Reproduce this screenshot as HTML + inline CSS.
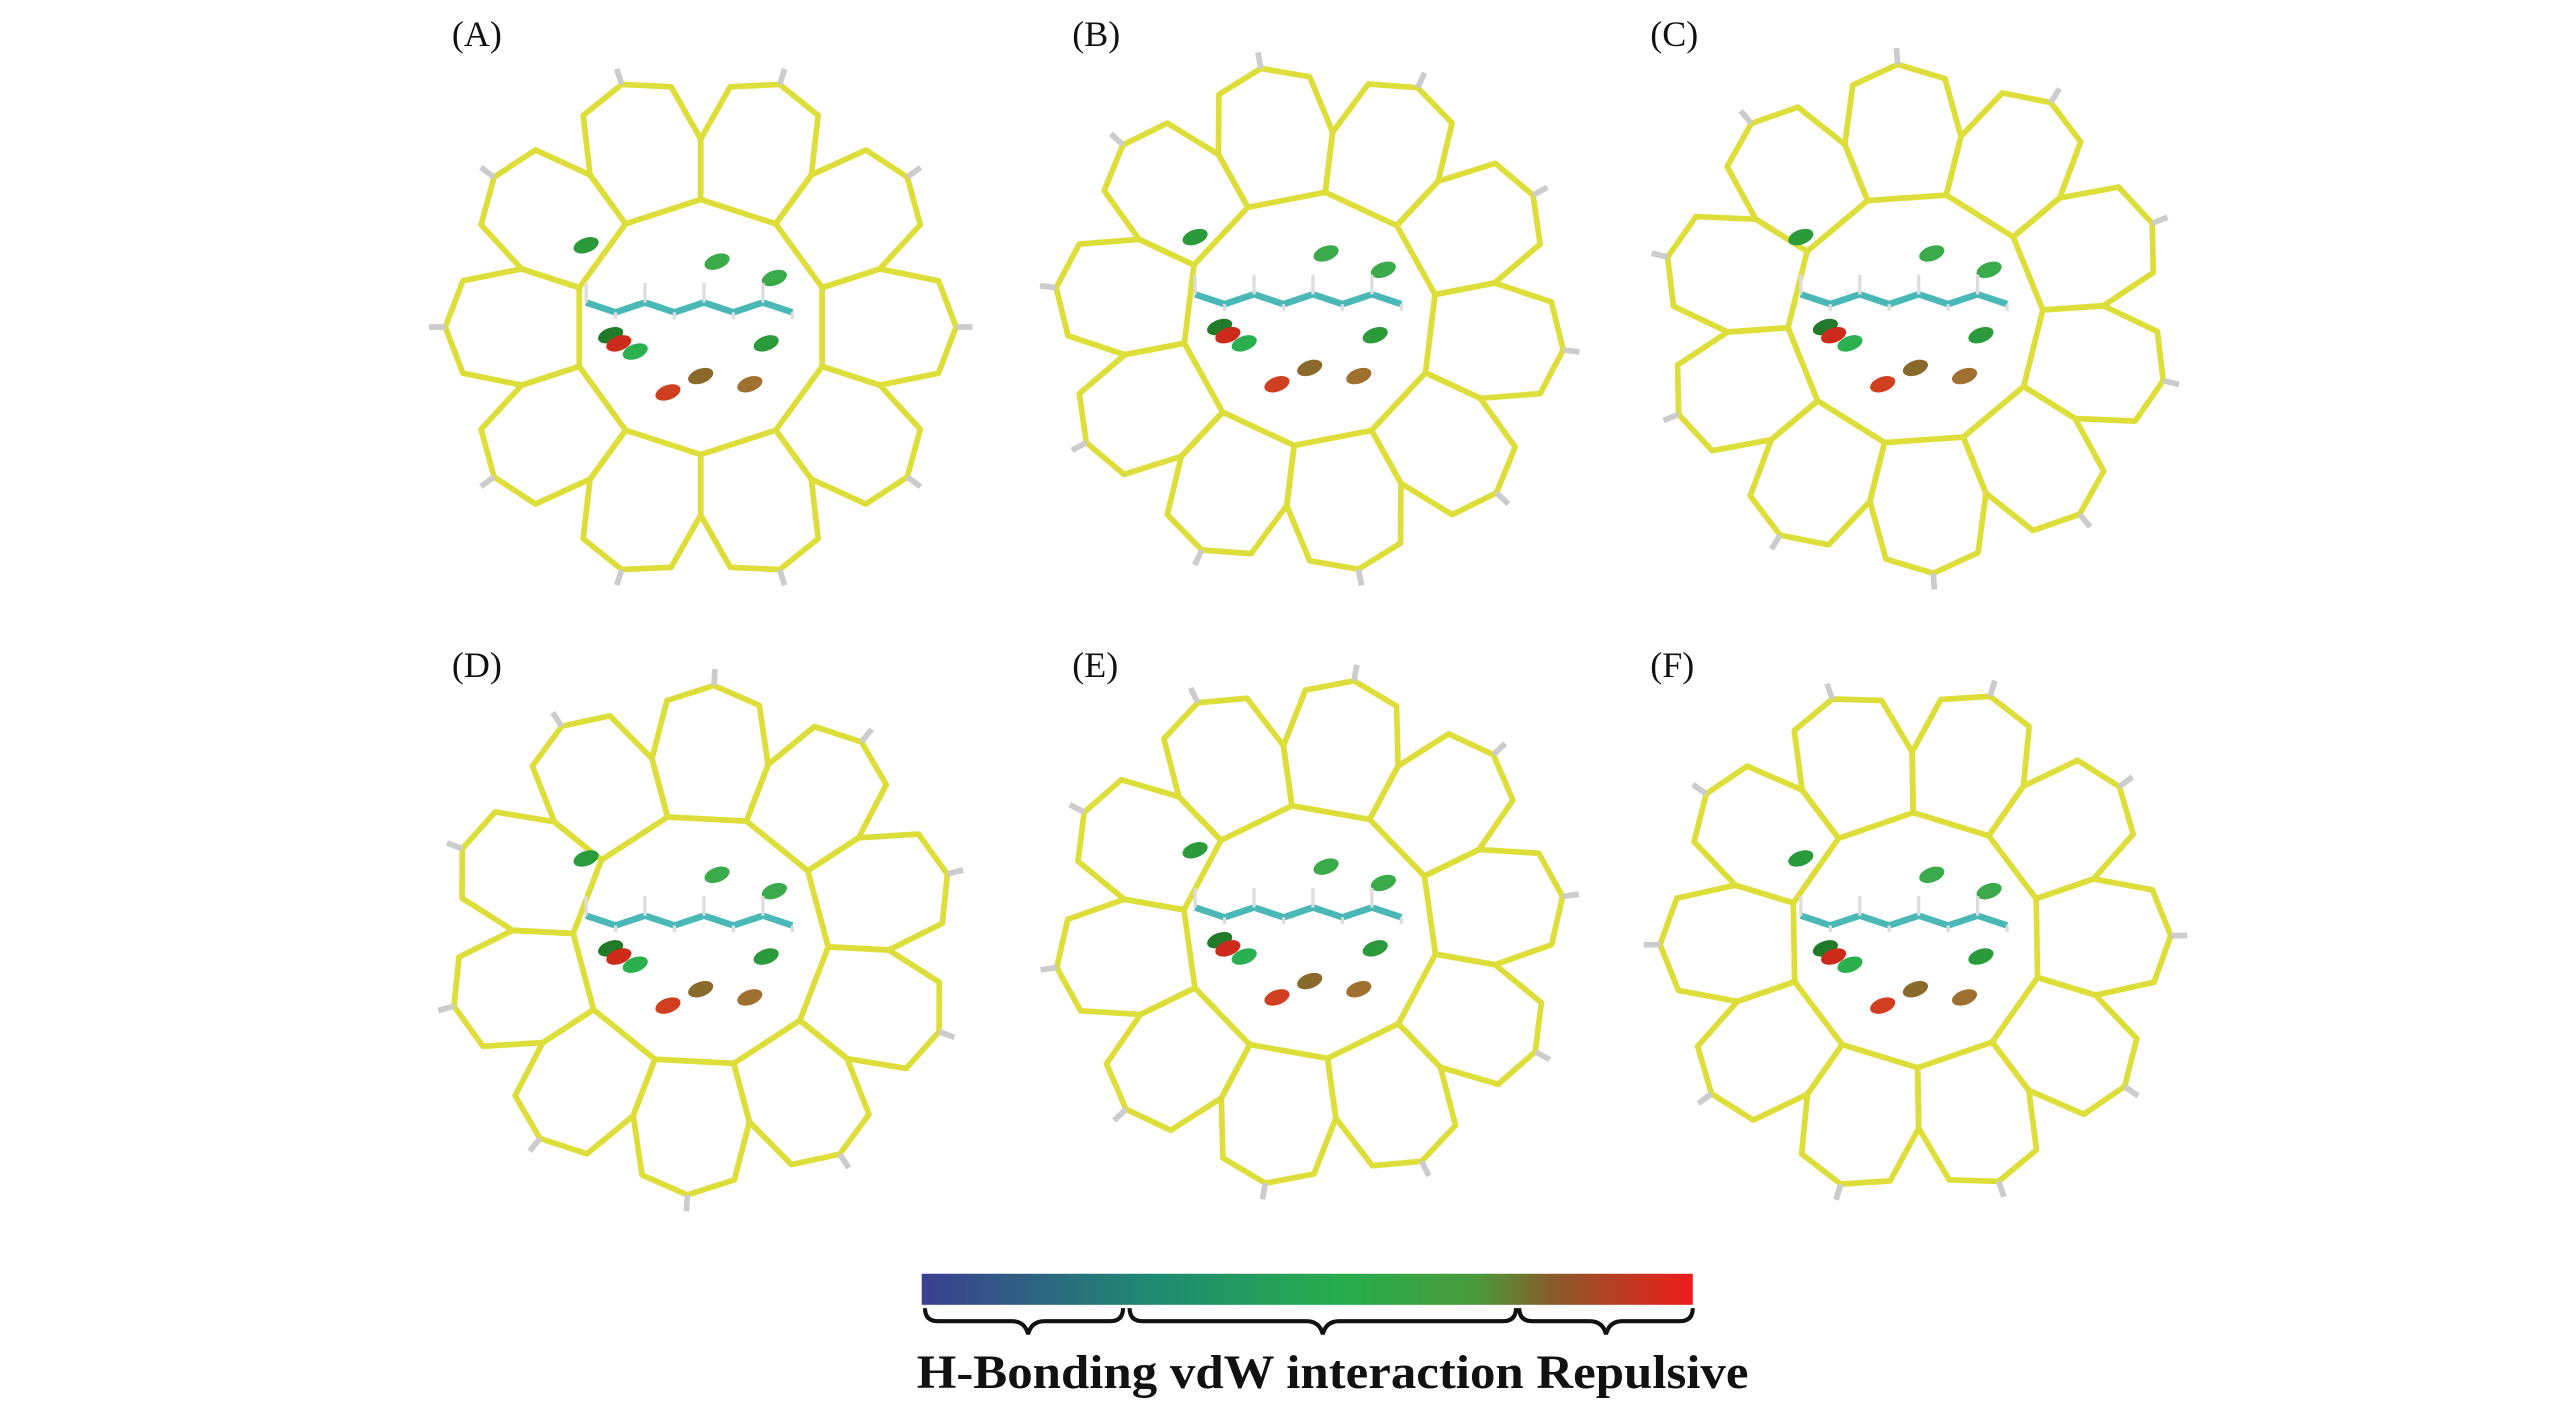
<!DOCTYPE html>
<html><head><meta charset="utf-8"><style>
html,body{margin:0;padding:0;background:#fff;}
svg{display:block}
</style></head><body>
<svg id="s" width="2567" height="1416" viewBox="0 0 1568 866" preserveAspectRatio="none" xmlns="http://www.w3.org/2000/svg">
<defs>
<linearGradient id="g" x1="0" x2="1" y1="0" y2="0">
<stop offset="0" stop-color="#3b3f90"/>
<stop offset="0.3" stop-color="#1f8a72"/>
<stop offset="0.55" stop-color="#27ad4c"/>
<stop offset="0.72" stop-color="#4a9a3c"/>
<stop offset="0.82" stop-color="#8a5a2a"/>
<stop offset="1" stop-color="#ee1c1c"/>
</linearGradient>
</defs>
<g font-family="Liberation Serif, serif" font-size="22" fill="#111">
<text x="276" y="28">(A)</text><text x="655" y="28">(B)</text><text x="1008" y="28">(C)</text>
<text x="276" y="414">(D)</text><text x="655" y="414">(E)</text><text x="1008" y="414">(F)</text>
</g>
<g id="panels"></g>
<rect x="563" y="779" width="471" height="19" fill="url(#g)"/>
<g fill="none" stroke="#111" stroke-width="2.5">
<path d="M565 800 q0 8 8 8 h45 q8 0 10 8 q2 -8 10 -8 h40 q8 0 8 -8"/>
<path d="M690 800 q0 8 8 8 h100 q8 0 10 8 q2 -8 10 -8 h100 q8 0 8 -8"/>
<path d="M928 800 q0 8 8 8 h35 q8 0 10 8 q2 -8 10 -8 h35 q8 0 8 -8"/>
</g>
<text x="560" y="849" font-family="Liberation Serif, serif" font-weight="bold" font-size="29" fill="#111" textLength="508" lengthAdjust="spacingAndGlyphs">H-Bonding vdW interaction Repulsive</text>
</svg>
<script>
var ns="http://www.w3.org/2000/svg",P=document.getElementById("panels");
var C=[[428,200],[800,195],[1170,195],[428,575],[800,570],[1170,575]];
function el(t,a){var e=document.createElementNS(ns,t);for(var k in a)e.setAttribute(k,a[k]);P.appendChild(e);return e;}
function pt(cx,cy,r,a){a=a*Math.PI/180;return [cx+r*Math.cos(a),cy+r*Math.sin(a)];}
C.forEach(function(c,pi){
 var cx=c[0],cy=c[1],n=10,off=pi*7;
 for(var i=0;i<n;i++){
  var a=i*36+off,v=[[78,a-18],[115,a-18],[148,a-11],[156,a],[148,a+11],[115,a+18],[78,a+18]];
  var d=v.map(function(q){return pt(cx,cy,q[0],q[1]).join(",");}).join(" ");
  el("polygon",{points:d,fill:"none",stroke:"#dede3a","stroke-width":3.5,"stroke-linejoin":"round"});
  var p1=pt(cx,cy,156,a),p2=pt(cx,cy,166,a);
  el("line",{x1:p1[0],y1:p1[1],x2:p2[0],y2:p2[1],stroke:"#ccc","stroke-width":3.5});
 }
 var bl=[[-70,-50,"#2a9a3a"],[-55,5,"#1f7a2a"],[-50,10,"#cc2a1a"],[-40,15,"#2bb050"],[0,30,"#8a6a2a"],[30,35,"#a07030"],[40,10,"#2a9a3a"],[10,-40,"#3aaa4a"],[45,-30,"#3aaa4a"],[-20,40,"#d04020"]];
 bl.forEach(function(b){el("ellipse",{cx:cx+b[0],cy:cy+b[1],rx:8,ry:4.5,fill:b[2],transform:"rotate(-20 "+(cx+b[0])+" "+(cy+b[1])+")"});});
 var pts="";for(var k=0;k<8;k++){pts+=(cx-70+k*18)+","+(cy-15+(k%2?6:0))+" ";}
 el("polyline",{points:pts,fill:"none",stroke:"#4bb8b8","stroke-width":4});
 for(var k=0;k<8;k++){el("line",{x1:cx-70+k*18,y1:cy-15+(k%2?6:0),x2:cx-70+k*18,y2:cy-27+(k%2?22:0),stroke:"#ddd","stroke-width":2});}
});
</script>
</body></html>
